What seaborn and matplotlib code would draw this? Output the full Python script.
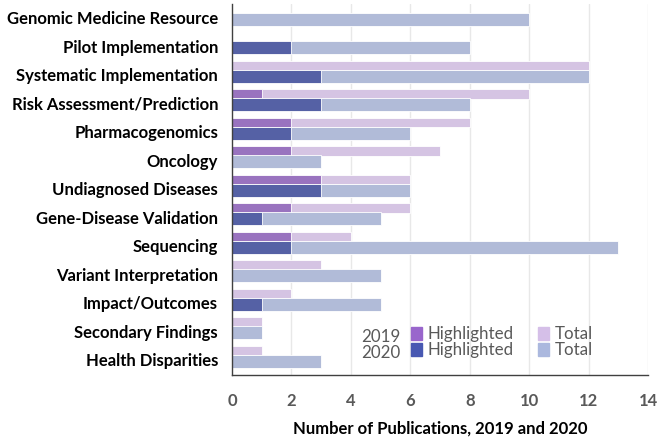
import pandas as pd
import matplotlib.pyplot as plt
import seaborn as sns
from matplotlib.patches import Patch

# Categories (top to bottom)
categories = ['Genomic Medicine Resource', 'Pilot Implementation', 'Systematic Implementation',
              'Risk Assessment/Prediction', 'Pharmacogenomics', 'Oncology', 'Undiagnosed Diseases',
              'Gene-Disease Validation', 'Sequencing', 'Variant Interpretation', 'Impact/Outcomes',
              'Secondary Findings', 'Health Disparities']

total_2019 = [0, 0, 12, 10, 8, 7, 6, 6, 4, 3, 2, 1, 1]
highlighted_2019 = [0, 0, 0, 1, 2, 2, 3, 2, 2, 0, 0, 0, 0]
total_2020 = [10, 8, 12, 8, 6, 3, 6, 5, 13, 5, 5, 1, 3]
highlighted_2020 = [0, 2, 3, 3, 2, 0, 3, 1, 2, 0, 1, 0, 0]

xticks = [0, 2, 4, 6, 8, 10, 12, 14]

c_tot19 = '#D5BFE8'
c_hl19 = '#9966CC'
c_tot20 = '#ABB8DE'
c_hl20 = '#4858B2'

sns.set_style('white')
plt.rcParams['font.family'] = ['Lato', 'DejaVu Sans']

df = pd.DataFrame({'cat': categories, 'idx': range(len(categories)),
                   't19': total_2019, 'h19': highlighted_2019,
                   't20': total_2020, 'h20': highlighted_2020})
df['y19'] = df['idx'] - 0.33
df['y20'] = df['idx'] + 0.05

fig = plt.figure(figsize=(6.6, 4.42), dpi=100)
ax = fig.add_axes([0.3515, 0.1516, 0.6303, 0.8394])

# vertical grid
for t in xticks[1:]:
    ax.axvline(t, color='#E8E8E8', lw=1, zorder=0)

kw = dict(orient='h', native_scale=True, ax=ax, linewidth=0.6, edgecolor='white', zorder=2)
sns.barplot(data=df, x='t19', y='y19', color=c_tot19, width=0.32, **kw)
sns.barplot(data=df, x='h19', y='y19', color=c_hl19, width=0.32, **kw)
sns.barplot(data=df, x='t20', y='y20', color=c_tot20, width=0.46, **kw)
sns.barplot(data=df, x='h20', y='y20', color=c_hl20, width=0.46, **kw)

ax.set_ylim(12.53, -0.49)
ax.set_xlim(0, 14)
ax.set_yticks(df['idx'])
ax.set_yticklabels(categories, fontsize=12, fontweight='bold', color='black')
ax.set_xticks(xticks)
ax.set_xticklabels([str(t) for t in xticks], fontsize=12, fontweight='bold', color='#595959')
ax.tick_params(axis='x', length=0, pad=13)
ax.tick_params(axis='y', length=0, pad=10)
ax.set_ylabel('')
ax.set_xlabel('Number of Publications, 2019 and 2020', fontsize=12, fontweight='bold',
              color='black', labelpad=8)

for s in ['top', 'right']:
    ax.spines[s].set_visible(False)
for s in ['left', 'bottom']:
    ax.spines[s].set_color('#404040')
    ax.spines[s].set_linewidth(1)

# legend
handles = [Patch(color=c_hl19), Patch(color=c_hl20), Patch(color=c_tot19), Patch(color=c_tot20)]
labels = ['Highlighted', 'Highlighted', 'Total', 'Total']
leg = ax.legend(handles, labels, ncol=2, frameon=False, loc='lower left',
                bbox_to_anchor=(0.41, 0.022), fontsize=12.2, handlelength=0.65,
                handleheight=0.75, handletextpad=0.35, columnspacing=1.4, labelspacing=0.0,
                borderpad=0)
for t in leg.get_texts():
    t.set_color('#595959')
ax.text(0.404, 0.103, '2019', transform=ax.transAxes, fontsize=12.2, color='#595959',
        ha='right', va='center')
ax.text(0.404, 0.058, '2020', transform=ax.transAxes, fontsize=12.2, color='#595959',
        ha='right', va='center')

plt.savefig('out.png', dpi=100)
